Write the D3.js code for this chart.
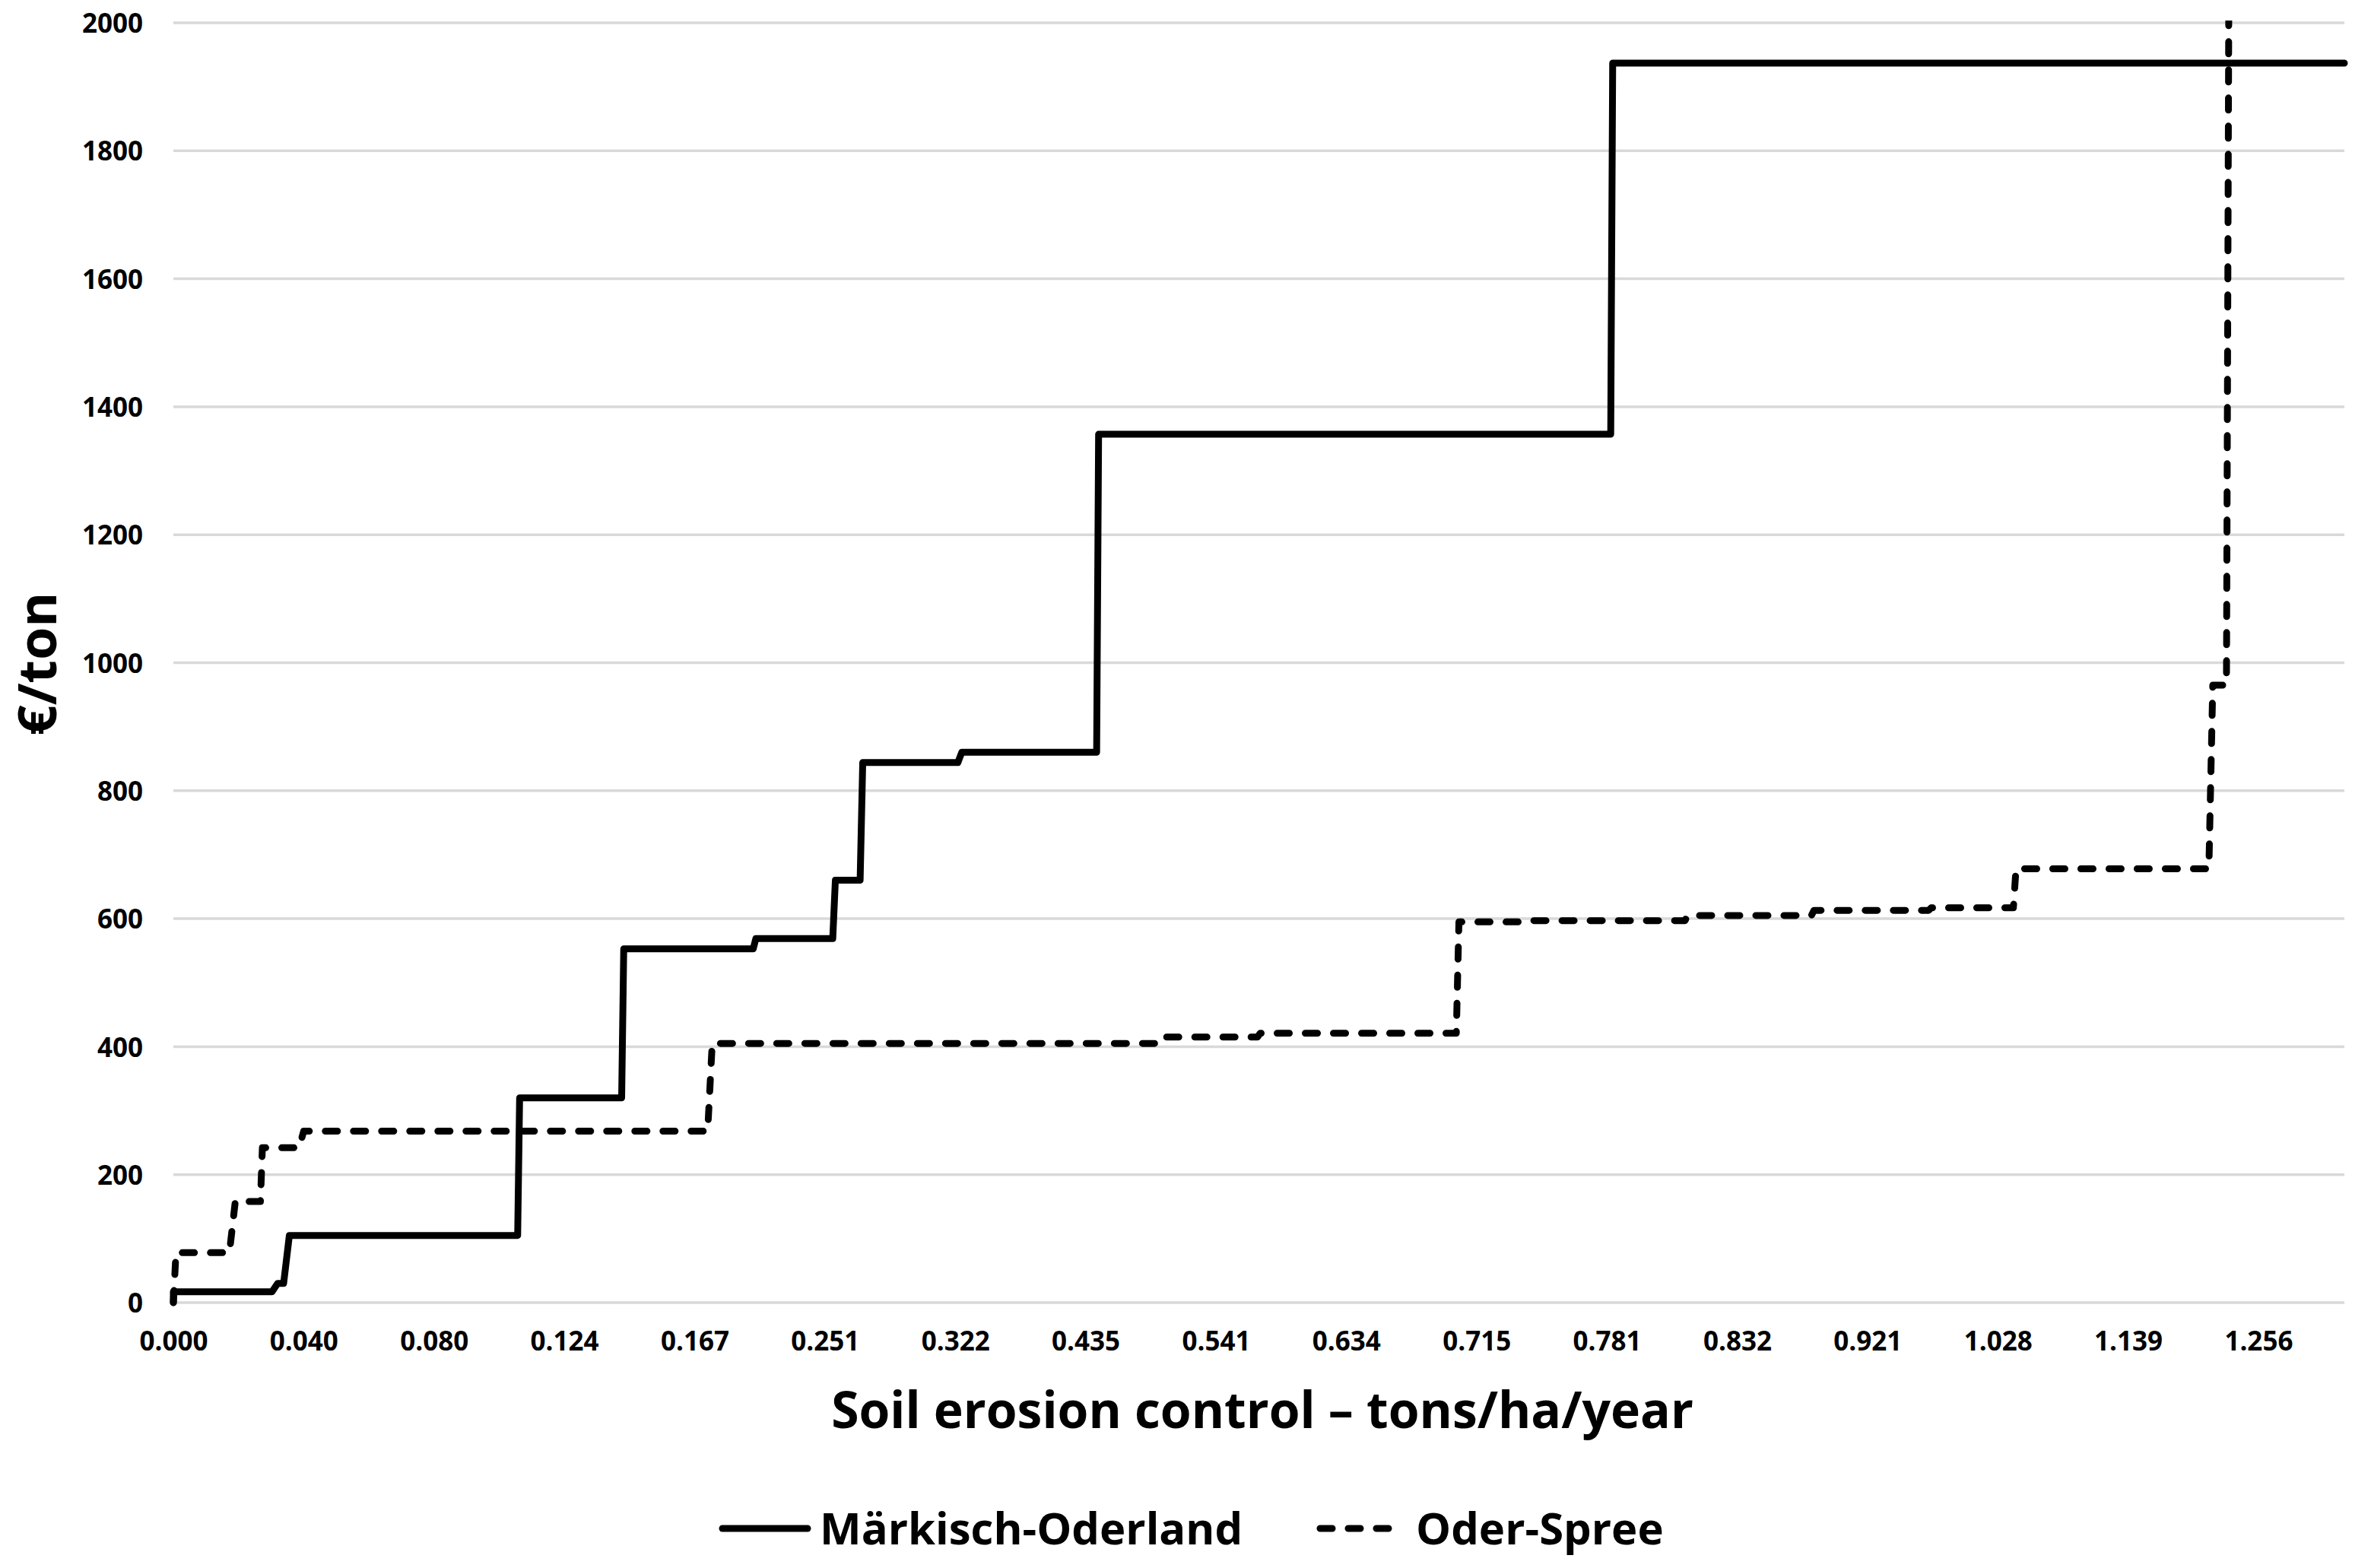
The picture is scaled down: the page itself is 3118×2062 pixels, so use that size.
<!DOCTYPE html>
<html>
<head>
<meta charset="utf-8">
<script src="https://cdn.jsdelivr.net/npm/d3@7"></script>
<style>
  html, body { margin: 0; padding: 0; background: #fff; }
  svg text { font-family: "Open Sans", "Noto Sans", sans-serif; font-weight: bold; fill: #000; }
</style>
</head>
<body>
<div id="chart"></div>
<script>
// x axis is a category axis; positions below are in "label steps" (one step = one tick label)
const xTickLabels = ["0.000", "0.040", "0.080", "0.124", "0.167", "0.251", "0.322", "0.435", "0.541",
    "0.634", "0.715", "0.781", "0.832", "0.921", "1.028", "1.139", "1.256"]
const yTicks = [0, 200, 400, 600, 800, 1000, 1200, 1400, 1600, 1800, 2000]

// Märkisch-Oderland (solid)
const moPos = [0, 0, 0.757, 0.80, 0.846, 0.89, 2.642, 2.657, 3.44, 3.456, 4.45, 4.47, 5.06, 5.08, 5.27, 5.29,
    6.02, 6.05, 7.085, 7.10, 11.03, 11.045, 16.66]
const moVal = [0, 17, 17, 30, 30, 105, 105, 320, 320, 553, 553, 569, 569, 660, 660, 844,
    844, 860, 860, 1357, 1357, 1937, 1937]

// Oder-Spree (dashed)
const osPos = [0, 0.02, 0.43, 0.475, 0.668, 0.683, 0.965, 1.0, 4.10, 4.135, 7.53, 7.555, 8.32, 8.34, 9.845, 9.865,
    10.32, 10.34, 11.60, 11.62, 12.57, 12.59, 13.47, 13.49, 14.12, 14.14, 15.62, 15.65, 15.755, 15.775]
const osVal = [0, 78, 78, 158, 158, 242, 242, 268, 268, 405, 405, 415, 415, 421, 421, 595,
    595, 597, 597, 605, 605, 613, 613, 617, 617, 678, 678, 965, 965, 2150]

const width = 3118
const height = 2062
const plotLeft = 228, plotRight = 3083, plotTop = 30, plotBottom = 1713

const svg = d3.select("#chart").append("svg").attr("width", width).attr("height", height)
svg.append("rect").attr("width", width).attr("height", height).attr("fill", "#fff")

const x = d3.scaleLinear().domain([0, 16.66]).range([plotLeft, plotRight])
const y = d3.scaleLinear().domain([0, 2000]).range([plotBottom, plotTop])

// gridlines
svg.append("g").selectAll("line").data(yTicks).enter().append("line")
    .attr("x1", plotLeft).attr("x2", plotRight)
    .attr("y1", d => y(d)).attr("y2", d => y(d))
    .attr("stroke", "#d9d9d9").attr("stroke-width", 3.5)

// y axis labels
const yAxis = svg.append("g").attr("transform", `translate(${plotLeft - 40},0)`)
    .call(d3.axisLeft(y).tickValues(yTicks).tickSize(0).tickPadding(0).tickFormat(d3.format("d")))
yAxis.select(".domain").remove()
yAxis.selectAll("text").style("font-size", "35px").attr("dy", "0.36em")

// x axis labels
const xAxis = svg.append("g").attr("transform", `translate(0,${plotBottom + 38})`)
    .call(d3.axisBottom(x).tickValues(d3.range(xTickLabels.length)).tickSize(0).tickPadding(0)
        .tickFormat(i => xTickLabels[i]))
xAxis.select(".domain").remove()
xAxis.selectAll("text").style("font-size", "35px").attr("dy", "0.71em")

svg.append("clipPath").attr("id", "plotClip").append("rect")
    .attr("x", plotLeft - 10).attr("y", plotTop - 3).attr("width", plotRight - plotLeft + 20).attr("height", plotBottom - plotTop + 20)

const line = d3.line().x(d => x(d[0])).y(d => y(d[1]))
const moData = moPos.map((p, i) => [p, moVal[i]])
const osData = osPos.map((p, i) => [p, osVal[i]])

const plot = svg.append("g").attr("clip-path", "url(#plotClip)")
plot.append("path").datum(moData).attr("d", line)
    .attr("fill", "none").attr("stroke", "#000").attr("stroke-width", 9)
    .attr("stroke-linejoin", "round").attr("stroke-linecap", "round")
plot.append("path").datum(osData).attr("d", line)
    .attr("fill", "none").attr("stroke", "#000").attr("stroke-width", 9)
    .attr("stroke-dasharray", "16 21").attr("stroke-linecap", "round").attr("stroke-linejoin", "round")

// axis titles
svg.append("text").attr("x", 1660).attr("y", 1878).attr("text-anchor", "middle")
    .style("font-size", "66px").text("Soil erosion control – tons/ha/year")
svg.append("text").attr("transform", "translate(74,873) rotate(-90)").attr("text-anchor", "middle")
    .style("font-size", "70px").text("€/ton")

// legend
const legend = [
    { name: "Märkisch-Oderland", dash: null, x1: 950, x2: 1062, tx: 1078 },
    { name: "Oder-Spree", dash: "16 21", x1: 1736, x2: 1846, tx: 1862 }
]
legend.forEach(d => {
    svg.append("line").attr("x1", d.x1).attr("x2", d.x2).attr("y1", 2010).attr("y2", 2010)
        .attr("stroke", "#000").attr("stroke-width", 9).attr("stroke-linecap", "round")
        .attr("stroke-dasharray", d.dash)
    svg.append("text").attr("x", d.tx).attr("y", 2031).style("font-size", "58px").text(d.name)
})
</script>
</body>
</html>
